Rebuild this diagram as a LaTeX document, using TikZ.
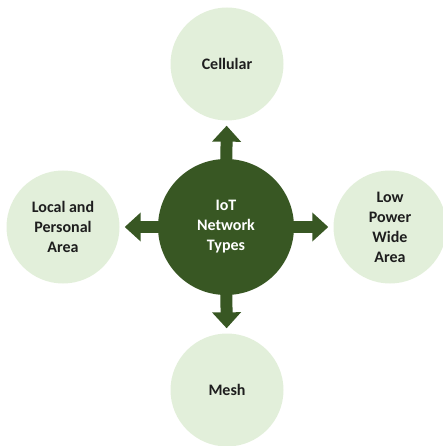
\documentclass[tikz,border=0pt]{standalone}
\usepackage{fontspec}
\setmainfont{Carlito}
\usetikzlibrary{arrows.meta}
\definecolor{darkgreen}{RGB}{56,87,35}
\definecolor{palegreen}{RGB}{226,239,218}
\definecolor{txtgrey}{RGB}{30,30,30}

\begin{document}
\begin{tikzpicture}[x=1pt,y=-1pt,
  hub/.style={circle,fill=darkgreen,minimum size=136pt,inner sep=0pt,text=white,
              font=\fontsize{16}{20}\selectfont\bfseries,align=center},
  leaf/.style={circle,fill=palegreen,minimum size=113pt,inner sep=0pt,text=txtgrey,
               font=\fontsize{16}{20}\selectfont\bfseries,align=center},
  blockarr/.style={draw=darkgreen,line width=12pt,shorten <=-2pt,shorten >=5pt,
                   -{Triangle[length=16pt,width=28pt,fill=darkgreen]}}
]
\useasboundingbox (0,0) rectangle (443,446);
\node[hub] (net) at (226,227) {IoT\\Network\\Types};
\node[leaf] (cell) at (227,64) {Cellular};
\node[leaf] (mesh) at (227,390) {Mesh};
\node[leaf] (lpa) at (63,227) {Local and\\Personal\\Area};
\node[leaf] (lpwa) at (390,227) {Low\\Power\\Wide\\Area};
\draw[blockarr] (net) -- (cell); \draw[blockarr] (net) -- (mesh);
\draw[blockarr] (net) -- (lpa); \draw[blockarr] (net) -- (lpwa);
\end{tikzpicture}
\end{document}
